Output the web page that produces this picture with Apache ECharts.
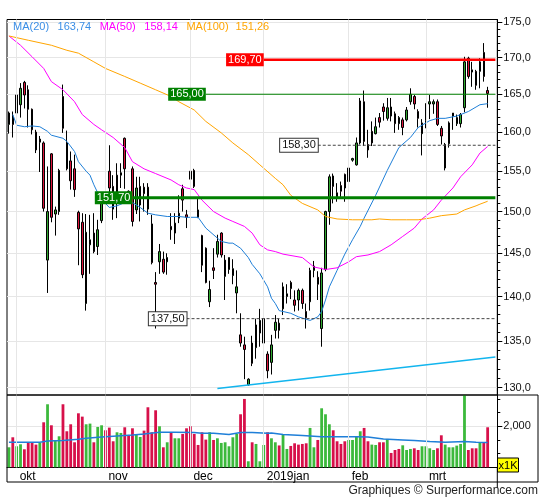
<!DOCTYPE html>
<html><head><meta charset="utf-8">
<script src="https://cdn.jsdelivr.net/npm/echarts@6/dist/echarts.min.js"></script>
<style>html,body{margin:0;padding:0;background:#fff}#c{width:545px;height:500px}</style>
</head><body><div id="c"></div>
<script>
const dates = [
'2018-09-27','2018-09-28',
'2018-10-01','2018-10-02','2018-10-03','2018-10-04','2018-10-05','2018-10-08','2018-10-09','2018-10-10','2018-10-11','2018-10-12','2018-10-15','2018-10-16','2018-10-17','2018-10-18','2018-10-19','2018-10-22','2018-10-23','2018-10-24','2018-10-25','2018-10-26','2018-10-29','2018-10-30','2018-10-31',
'2018-11-01','2018-11-02','2018-11-05','2018-11-06','2018-11-07','2018-11-08','2018-11-09','2018-11-12','2018-11-13','2018-11-14','2018-11-15','2018-11-16','2018-11-19','2018-11-20','2018-11-21','2018-11-22','2018-11-23','2018-11-26','2018-11-27','2018-11-28','2018-11-29','2018-11-30',
'2018-12-03','2018-12-04','2018-12-05','2018-12-06','2018-12-07','2018-12-10','2018-12-11','2018-12-12','2018-12-13','2018-12-14','2018-12-17','2018-12-18','2018-12-19','2018-12-20','2018-12-21','2018-12-24','2018-12-27','2018-12-28','2018-12-31',
'2019-01-02','2019-01-03','2019-01-04','2019-01-07','2019-01-08','2019-01-09','2019-01-10','2019-01-11','2019-01-14','2019-01-15','2019-01-16','2019-01-17','2019-01-18','2019-01-21','2019-01-22','2019-01-23','2019-01-24','2019-01-25','2019-01-28','2019-01-29','2019-01-30','2019-01-31',
'2019-02-01','2019-02-04','2019-02-05','2019-02-06','2019-02-07','2019-02-08','2019-02-11','2019-02-12','2019-02-13','2019-02-14','2019-02-15','2019-02-18','2019-02-19','2019-02-20','2019-02-21','2019-02-22','2019-02-25','2019-02-26','2019-02-27','2019-02-28',
'2019-03-01','2019-03-04','2019-03-05','2019-03-06','2019-03-07','2019-03-08','2019-03-11','2019-03-12','2019-03-13','2019-03-14','2019-03-15','2019-03-18','2019-03-19','2019-03-20','2019-03-21','2019-03-22','2019-03-25'
];
const opens = [
161.0,162.1,162.5,163.6,166.6,165.6,163.0,160.0,158.7,158.6,
144.2,157.2,149.7,150.0,164.7,158.6,156.3,155.3,149.9,148.7,
139.2,146.0,147.4,145.8,148.9,152.3,155.0,153.1,151.2,154.5,
159.2,152.5,155.3,150.2,150.8,153.0,153.0,148.5,141.6,144.0,
144.3,144.0,148.2,147.4,149.2,152.8,149.6,155.0,155.1,150.2,
147.1,145.6,139.4,143.3,144.9,147.4,142.3,143.1,142.4,140.4,
135.7,134.6,130.3,134.8,134.3,135.9,137.5,133.6,132.7,136.2,
137.0,138.6,140.0,141.6,139.6,139.6,140.7,138.3,139.4,143.0,
142.2,136.4,143.1,150.0,154.4,152.3,153.2,154.6,153.7,156.4,
155.8,158.6,164.0,158.4,160.1,159.8,161.9,163.3,161.8,163.3,
162.4,161.1,161.6,161.6,164.0,164.7,162.7,159.8,161.1,163.7,
163.7,164.0,160.5,155.4,158.5,162.5,161.1,161.1,163.2,169.9,
168.3,168.1,168.1,170.7,165.5];
const closes = [
162.5,161.0,164.9,165.8,164.9,163.0,160.3,157.7,159.1,150.4,
150.0,149.3,150.2,155.1,160.5,155.3,153.8,152.7,147.9,142.5,
147.5,146.6,145.2,147.8,151.0,151.3,152.9,150.3,154.5,154.8,
155.3,151.2,148.8,152.9,153.1,152.2,150.3,143.9,141.4,145.2,
142.8,144.5,147.8,148.6,149.8,151.4,149.3,154.0,153.1,149.3,
143.6,141.6,140.8,143.0,146.4,144.8,144.2,144.5,143.2,141.1,
134.8,134.1,130.9,132.6,136.8,137.3,134.8,131.8,134.6,137.1,
136.2,141.1,140.3,140.9,139.0,140.7,139.2,137.6,143.0,143.5,
141.4,142.7,150.0,154.3,153.1,151.8,152.5,152.9,155.4,156.6,
158.6,164.1,158.8,157.7,158.6,160.7,161.3,162.7,163.2,162.1,
161.1,161.9,160.6,162.9,165.0,163.7,161.8,161.2,161.5,164.0,
164.0,161.0,159.5,158.4,161.2,162.1,161.9,162.3,169.4,167.4,
168.0,166.2,169.4,167.4,165.1];
const lows = [
159.8,159.3,161.9,161.9,163.1,160.6,159.7,157.3,154.9,150.0,
140.4,148.7,147.1,149.6,159.9,155.1,152.7,151.8,143.6,142.1,
138.4,142.6,145.0,144.8,148.6,150.9,152.0,149.0,149.2,152.9,
152.8,151.0,148.2,149.7,148.8,150.0,149.6,143.7,136.4,142.6,
142.6,142.5,146.6,146.1,148.6,150.0,148.0,152.9,152.9,149.2,
142.8,141.5,138.8,142.0,144.5,144.5,139.6,142.6,141.4,138.1,
134.4,130.9,130.2,132.3,133.1,134.4,134.1,131.0,131.4,135.3,
135.3,137.9,139.2,139.7,138.3,138.4,138.6,136.4,138.4,142.2,
139.6,134.4,142.9,148.4,151.0,151.2,151.8,151.2,152.9,156.2,
155.7,158.4,158.2,156.7,158.2,159.7,160.6,161.5,161.5,161.4,
159.9,160.3,159.6,161.4,163.6,163.0,160.6,157.0,160.5,161.7,
162.4,160.8,158.4,155.1,158.0,160.3,160.8,160.6,162.6,167.1,
166.0,165.6,165.8,166.7,163.2];
const highs = [
162.7,162.7,166.0,166.5,166.8,166.2,163.1,160.3,159.5,158.8,
155.6,157.3,150.6,155.3,166.3,160.2,157.5,157.1,150.1,149.8,
149.7,149.6,149.8,149.0,151.4,152.6,158.3,154.5,156.0,156.0,
159.3,152.6,155.6,154.3,154.3,153.5,153.5,149.6,142.8,146.1,
145.2,145.0,149.8,149.8,152.0,153.3,150.2,155.6,155.3,151.6,
147.2,145.7,141.8,145.6,147.2,147.5,144.8,144.5,144.3,143.0,
138.1,135.5,131.0,135.6,137.5,138.6,138.3,133.9,135.7,137.9,
137.5,141.6,141.4,141.8,140.7,140.9,140.9,139.2,143.3,144.1,
142.9,143.3,150.1,154.6,154.7,153.5,153.7,154.7,155.6,156.7,
159.3,164.5,165.5,160.3,161.4,161.9,162.5,163.8,164.5,164.5,
162.7,162.1,161.9,163.3,165.8,164.9,163.0,161.7,163.8,164.9,
164.3,164.3,160.8,158.6,161.4,162.5,162.3,162.5,170.1,170.1,
169.4,168.3,169.9,172.0,166.0];
const volumes = [
1232,1598,1269,1342,1159,1391,1391,1330,1391,2147,
2806,2037,1488,1635,2806,1818,2074,1415,2476,2354,
2074,2098,1415,1976,2037,1854,1952,1452,1781,1757,
1964,1683,1927,1683,1610,1842,2696,1781,2586,2001,
1232,1415,1757,1561,1561,1720,1927,2001,1720,1317,
1781,1513,1781,1500,1561,1391,1415,1269,1598,1720,
2440,3001,720,1415,1354,720,1317,1781,1561,1415,
1300,1696,1171,1281,1378,1330,1354,1378,1940,1232,
1500,2659,2440,2074,1854,1452,1354,1452,1500,1500,
1635,1818,1940,1452,1330,1317,1415,1415,1537,1025,
1134,1171,1305,1134,1171,1195,1134,1269,1269,1195,
1134,1195,1671,1330,1232,1232,1293,1354,3300,1134,
1195,1195,1415,1415,1964];
const volUp = [
1,0,1,1,0,0,0,0,1,0, 1,0,1,1,0,0,0,0,0,0, 1,1,0,1,1,0,0,0,1,1,
0,0,0,1,1,0,0,0,0,1, 0,1,0,1,1,0,0,0,0,0, 0,0,1,0,1,1,1,1,1,1,
0,0,1,0,1,1,1,0,1,1, 0,1,1,0,0,0,0,0,1,1, 0,1,1,1,0,0,0,0,1,1,
1,1,0,0,1,1,0,0,1,0, 0,0,1,1,1,0,0,1,1,1, 1,0,0,1,1,1,1,1,1,0,
0,0,1,0,0];
// moving averages: [bar index, value]
const ma20Pts = [[1,162.3],[2,160.9],[4,160.7],[6,160.8],[8,160.7],[10,160.1],[11,159.6],[14,159.2],[15,158.8],[17,157.5],[18,156.2],[20,155.0],[21,154.5],[22,153.3],[23,152.3],[24,151.5],[26,150.5],[28,150.7],[30,151.1],[32,151.1],[34,150.5],[36,149.8],[38,149.6],[41,149.4],[44,149.4],[46,149.3],[49,149.3],[51,148.0],[54,146.8],[55,146.4],[57,146.2],[58,146.2],[60,145.6],[62,144.5],[63,143.7],[65,142.6],[67,141.1],[68,139.8],[69,139.2],[70,138.4],[73,138.1],[75,137.7],[78,137.3],[80,137.7],[81,138.3],[82,139.6],[83,141.1],[85,143.0],[87,144.9],[89,146.6],[91,148.2],[92,149.2],[95,152.0],[98,155.1],[101,158.0],[104,159.3],[106,160.6],[109,161.5],[111,161.8],[113,161.8],[116,162.1],[117,162.3],[119,162.7],[121,163.3],[122,163.6],[124,163.74]];
const ma50Pts = [[0,173.0],[3,171.7],[6,170.1],[9,168.5],[11,166.7],[14,165.6],[17,164.0],[19,162.3],[22,161.0],[24,160.3],[27,159.3],[30,158.0],[32,156.2],[35,155.3],[38,154.7],[42,153.9],[44,153.3],[46,152.9],[48,152.7],[50,151.4],[53,150.0],[56,149.2],[58,148.8],[61,148.2],[63,147.4],[65,146.0],[67,145.4],[69,145.2],[71,144.9],[76,144.5],[79,143.4],[82,143.1],[85,143.3],[88,144.0],[90,144.6],[93,144.8],[96,145.2],[99,146.0],[102,147.0],[105,148.0],[107,149.1],[110,150.2],[112,151.4],[115,152.9],[117,154.3],[120,155.8],[122,157.3],[124,158.14]];
const ma100Pts = [[0,173.0],[5,172.4],[11,171.7],[15,171.0],[18,170.6],[22,169.4],[25,168.5],[30,167.4],[34,166.5],[38,165.6],[42,164.7],[44,164.0],[48,162.9],[51,161.4],[55,159.9],[58,158.6],[62,157.1],[65,155.8],[69,154.1],[71,153.3],[73,152.0],[76,151.0],[80,150.2],[82,149.4],[85,149.1],[89,149.0],[94,149.0],[96,149.1],[99,149.0],[103,149.0],[106,149.0],[109,149.2],[112,149.5],[116,149.7],[118,150.2],[121,150.7],[122,150.9],[124,151.26]];
const volMaPts = [[0,1415],[8,1415],[10,1464],[14,1476],[18,1525],[20,1561],[24,1610],[28,1647],[32,1683],[35,1720],[39,1781],[43,1781],[48,1769],[50,1744],[53,1744],[57,1696],[60,1769],[63,1769],[67,1744],[68,1757],[71,1696],[76,1659],[81,1622],[85,1622],[90,1622],[93,1610],[97,1537],[102,1500],[105,1476],[109,1440],[113,1415],[118,1440],[121,1415],[124,1403]];
const maNames = ['MA(20)','MA(50)','MA(100)'];
const maLast = [163.74, 158.14, 151.26];
const levelValues = [169.70, 165.00, 151.70, 158.30, 137.50];
const levelStartIdx = [66, 51, 32, 80, 46];
const trendPts = [[54, 129.92], [126, 133.28]];
const monthStartIdx = [2, 25, 47, 66, 88, 108];
const monthLabels = ['okt', 'nov', 'dec', '2019jan', 'feb', 'mrt'];
const priceTicks = [130,135,140,145,150,155,160,165,170,175];
const volLabelTicks = [2000];
const volMinorTicks = [1000,1500,2500,3000];

const FONT = "'Liberation Sans', Arial, sans-serif";
const fmt = (v, d) => v.toFixed(d).replace('.', ',');
const minorPriceTicks = [];
for (let v = 130; v <= 175; v++) if (v % 5) minorPriceTicks.push(v);

const UP = '#30a830', DOWN = '#dc143c', VUP = '#3cb93c', VDOWN = '#d7104a';
const N = dates.length;
const XMAX = N + 1;

const levelStyles = [
  {line:{color:'#ff0000', width:2.5, type:'solid'}, label:{backgroundColor:'#ff0000', color:'#fff'}},
  {line:{color:'#008000', width:1, type:'solid'}, label:{backgroundColor:'#008000', color:'#fff'}},
  {line:{color:'#008000', width:3, type:'solid'}, label:{backgroundColor:'#008000', color:'#fff'}},
  {line:{color:'#444', width:1, type:[3,2]}, label:{backgroundColor:'#fff', color:'#111', borderColor:'#333', borderWidth:1}},
  {line:{color:'#444', width:1, type:[3,2]}, label:{backgroundColor:'#fff', color:'#111', borderColor:'#333', borderWidth:1}}
];
const levelSeries = levelValues.map((v, k) => ({
  type:'line', xAxisIndex:0, yAxisIndex:0, z:10, silent:true,
  symbol:'circle', symbolSize:0.01, showSymbol:true, itemStyle:{color:'rgba(0,0,0,0)'},
  lineStyle: levelStyles[k].line,
  label:{show:false},
  data:[
    {value:[levelStartIdx[k], v],
     label: Object.assign({show:true, position:'left', distance:0, formatter: fmt(v,2), fontSize:11, fontFamily:FONT, padding:[1,2,0,2], lineHeight:12}, levelStyles[k].label)},
    {value:[XMAX, v], label:{show:false}}
  ]
}));
const trendSeries = {
  type:'line', xAxisIndex:0, yAxisIndex:0, z:6, silent:true, symbol:'none',
  lineStyle:{color:'#12b5ee', width:1.5}, data: trendPts
};
const monthLines = monthStartIdx.map(i => ({xAxis: i}));

const chart = echarts.init(document.getElementById('c'), null, {renderer:'canvas'});
chart.setOption({
  animation: false,
  backgroundColor: '#fff',
  textStyle: {fontFamily: FONT},
  title: {
    left: 13, top: 21, padding: 0,
    text: '{a|' + maNames[0] + '}{a|' + fmt(maLast[0],2) + '}{b|' + maNames[1] + '}{b|' + fmt(maLast[1],2) + '}{c|' + maNames[2] + '}{c|' + fmt(maLast[2],2) + '}',
    textStyle: {fontSize: 11, fontFamily: FONT, fontWeight: 'normal', rich: {
      a: {color:'#3a8ee6', fontSize:11, fontFamily:FONT, padding:[0,8.5,0,0]},
      b: {color:'#ff00ff', fontSize:11, fontFamily:FONT, padding:[0,8.5,0,0]},
      c: {color:'#ffa500', fontSize:11, fontFamily:FONT, padding:[0,7,0,0]}
    }}
  },
  grid: [
    {left:7, right:47.7, top:19.5, height:375.5, show:true, borderColor:'#000', borderWidth:1, backgroundColor:'transparent', outerBoundsMode:'none', containLabel:false},
    {left:7, right:47.7, top:395, height:72.3, show:false, outerBoundsMode:'none', containLabel:false}
  ],
  xAxis: [
    {type:'category', gridIndex:0, data:dates, boundaryGap:true, max:XMAX, show:false},
    {type:'category', gridIndex:1, data:dates, boundaryGap:true, max:XMAX,
     axisLine:{show:true, lineStyle:{color:'#000', width:1}}, axisTick:{show:false}, splitLine:{show:false},
     axisLabel:{show:true, interval:(i) => monthStartIdx.indexOf(i) >= 0,
       formatter:(v, i) => { const k = monthStartIdx.indexOf(i); return k >= 0 ? monthLabels[k] : ''; },
       align:'left', margin:3, fontSize:12, color:'#000', fontFamily:FONT, padding:[0,0,0,3]}}
  ],
  yAxis: [
    {type:'log', logBase:10, gridIndex:0, min:129.23, max:175.33, position:'right', scale:true,
     axisLine:{show:true, lineStyle:{color:'#000', width:1}},
     axisTick:{show:true, inside:false, length:5, customValues:priceTicks, lineStyle:{color:'#000'}},
     axisLabel:{show:true, customValues:priceTicks, formatter:(v) => fmt(Number(v),1), margin:6, fontSize:11, color:'#111', fontFamily:FONT},
     splitLine:{show:true, lineStyle:{color:'#e6e6e6', width:1}}},
    {type:'log', logBase:10, gridIndex:0, min:129.23, max:175.33, position:'right', scale:true,
     axisLine:{show:false}, axisTick:{show:true, inside:false, length:3, customValues:minorPriceTicks, lineStyle:{color:'#000'}},
     axisLabel:{show:false}, splitLine:{show:false}},
    {type:'value', gridIndex:1, min:500, max:3145, position:'right',
     axisLine:{show:true, lineStyle:{color:'#000', width:1}},
     axisTick:{show:true, inside:false, length:3, customValues:volMinorTicks, lineStyle:{color:'#000'}},
     axisLabel:{show:false}, splitLine:{show:false}},
    {type:'value', gridIndex:1, min:500, max:3145, position:'right',
     axisLine:{show:false},
     axisTick:{show:true, inside:false, length:5, customValues:volLabelTicks, lineStyle:{color:'#000'}},
     axisLabel:{show:true, customValues:volLabelTicks, margin:6, fontSize:11, color:'#111', fontFamily:FONT},
     splitLine:{show:true, lineStyle:{color:'#e6e6e6', width:1}}}
  ],
  series: [
    {type:'line', xAxisIndex:0, yAxisIndex:0, data:[], z:0, silent:true,
     markLine:{silent:true, symbol:['none','none'], label:{show:false}, lineStyle:{color:'#e6e6e6', width:1, type:'solid'}, data:monthLines, animation:false}},
    {type:'candlestick', xAxisIndex:0, yAxisIndex:0, barWidth:2, z:3,
     data: opens.map((o, i) => [o, closes[i], lows[i], highs[i]]),
     itemStyle:{color:UP, color0:DOWN, borderColor:'#000', borderColor0:'#000', borderColorDoji:'#000', borderWidth:1}},
    trendSeries,
    {type:'line', xAxisIndex:0, yAxisIndex:0, data:ma20Pts, symbol:'none', z:4, lineStyle:{color:'#1f7fd8', width:1}},
    {type:'line', xAxisIndex:0, yAxisIndex:0, data:ma50Pts, symbol:'none', z:4, lineStyle:{color:'#ff00ff', width:1}},
    {type:'line', xAxisIndex:0, yAxisIndex:0, data:ma100Pts, symbol:'none', z:4, lineStyle:{color:'#ffa500', width:1}}
  ].concat(levelSeries).concat([
    {type:'line', xAxisIndex:1, yAxisIndex:2, data:[], z:0, silent:true,
     markLine:{silent:true, symbol:['none','none'], label:{show:false}, lineStyle:{color:'#e6e6e6', width:1, type:'solid'}, data:monthLines, animation:false}},
    {type:'bar', xAxisIndex:1, yAxisIndex:2, barWidth:2.8, z:3,
     data: volumes.map((v, i) => ({value:v, itemStyle:{color: volUp[i] ? VUP : VDOWN}}))},
    {type:'line', xAxisIndex:1, yAxisIndex:2, data:volMaPts, symbol:'none', z:4, lineStyle:{color:'#1f7fd8', width:1.5}}
  ]),
  graphic: [
    {type:'rect', shape:{x:7, y:395, width:531, height:87}, style:{fill:'none', stroke:'#000', lineWidth:1}, silent:true, z:50},
    {type:'line', shape:{x1:497.3, y1:467, x2:497.3, y2:488}, style:{stroke:'#000', lineWidth:1}, silent:true, z:50},
    {type:'rect', shape:{x:497.5, y:458, width:21, height:14}, style:{fill:'#ffff00', stroke:'#000', lineWidth:1}, silent:true, z:60},
    {type:'text', x:508, y:465.5, style:{text:'x1K', fill:'#000', font:'11px ' + FONT, textAlign:'center', textVerticalAlign:'middle'}, silent:true, z:61},
    {type:'text', x:538, y:491, style:{text:'Graphiques \u00a9 Surperformance.com', fill:'#222', font:'12px ' + FONT, textAlign:'right', textVerticalAlign:'middle'}, silent:true, z:61}
  ]
});
</script></body></html>
